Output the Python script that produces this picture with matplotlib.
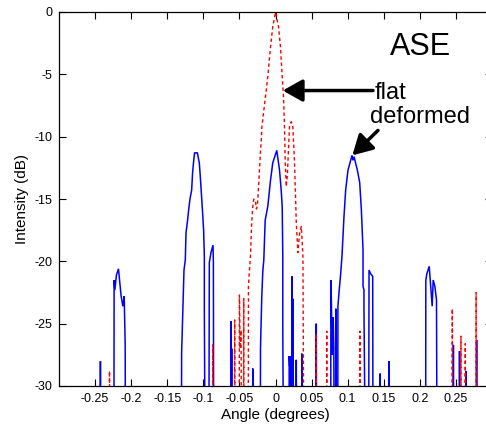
import numpy as np
import matplotlib
matplotlib.use('Agg')
from matplotlib import pyplot as plt

plt.rcParams['font.family'] = ['Liberation Sans', 'DejaVu Sans']
plt.rcParams['axes.unicode_minus'] = False

FLOOR = -40

# deformed mirror (solid blue)
blue_x = [-0.300, -0.2430, -0.2426, -0.2422,
          -0.2240, -0.2236, -0.2226, -0.2204, -0.2176, -0.2139, -0.2115, -0.2097, -0.2083, -0.2078,
          -0.1305, -0.1301, -0.1288, -0.1268, -0.1250, -0.1240, -0.1222, -0.1204, -0.1185, -0.1162,
          -0.1149, -0.1135, -0.1121, -0.1083, -0.1056, -0.1042, -0.1024, -0.1010, -0.0996, -0.0986,
          -0.0986, -0.0972,
          -0.0925, -0.0917, -0.0894, -0.0866, -0.0861, -0.0855,
          -0.0620, -0.0616, -0.0612, -0.0607, -0.0603,
          -0.0318, -0.0315, -0.0312,
          -0.0212, -0.0208, -0.0190, -0.0176, -0.0162, -0.0143, -0.0107, -0.0069, -0.0038, 0.0018,
          0.0056, 0.0079, 0.0093, 0.0101, 0.0101, 0.0115,
          0.0185, 0.0190, 0.0196, 0.0202, 0.0208, 0.0212,
          0.0222, 0.0227, 0.0233, 0.0240, 0.0245,
          0.0282, 0.0288, 0.0294, 0.0360, 0.0365, 0.0370,
          0.0560, 0.0565, 0.0570,
          0.0764, 0.0768, 0.0775, 0.0785, 0.0795, 0.0800, 0.0808, 0.0815,
          0.0830, 0.0836, 0.0842,
          0.0862, 0.0865, 0.0880, 0.0903, 0.0921, 0.0935, 0.0949, 0.0972, 0.1004, 0.1060, 0.1074,
          0.1088, 0.1135, 0.1167, 0.1190, 0.1213, 0.1213, 0.1226, 0.1226, 0.1250,
          0.1290, 0.1296, 0.1319, 0.1347, 0.1352,
          0.1446, 0.1450, 0.1454, 0.1566, 0.1570, 0.1574,
          0.2080, 0.2083, 0.2097, 0.2130, 0.2157, 0.2171, 0.2185, 0.2208, 0.2231, 0.2240,
          0.2461, 0.2465, 0.2469, 0.2546, 0.2550, 0.2554, 0.2636, 0.2640, 0.2644,
          0.2783, 0.2787, 0.2791, 0.300]
blue_y = [FLOOR, FLOOR, -28.0, FLOOR,
          FLOOR, -21.5, -22.3, -21.1, -20.6, -22.8, -23.6, -22.8, -26.6, FLOOR,
          FLOOR, -27.4, -24.7, -20.7, -19.9, -17.7, -16.9, -15.9, -15.0, -14.3,
          -12.9, -12.0, -11.3, -11.3, -12.1, -13.2, -14.8, -16.1, -17.5, -19.6,
          -23.9, FLOOR,
          FLOOR, -20.1, -19.3, -18.7, -20.0, FLOOR,
          FLOOR, -24.8, FLOOR, -27.0, FLOOR,
          FLOOR, -28.6, FLOOR,
          FLOOR, -27.0, -22.8, -20.8, -19.9, -16.7, -15.6, -13.5, -12.1, -11.1,
          -12.7, -14.3, -15.6, -19.6, -25.5, FLOOR,
          FLOOR, -27.6, -28.4, -27.6, -28.6, FLOOR,
          FLOOR, -21.2, FLOOR, -23.0, FLOOR,
          FLOOR, -27.9, FLOOR, FLOOR, -27.4, FLOOR,
          FLOOR, -25.0, FLOOR,
          FLOOR, -21.5, -23.4, -27.5, -25.2, -24.5, -27.0, FLOOR,
          FLOOR, -23.8, FLOOR,
          FLOOR, -23.6, -22.5, -21.0, -19.6, -18.0, -16.4, -14.3, -12.7, -11.5, -11.9,
          -11.6, -12.7, -13.7, -15.9, -19.1, -22.0, -22.3, -23.9, FLOOR,
          FLOOR, -20.7, -21.0, -21.2, FLOOR,
          FLOOR, -29.0, FLOOR, FLOOR, -28.0, FLOOR,
          FLOOR, -21.5, -21.0, -20.4, -22.5, -23.6, -21.5, -22.0, -23.1, FLOOR,
          FLOOR, -26.7, FLOOR, FLOOR, -27.2, FLOOR, FLOOR, -28.8, FLOOR,
          FLOOR, -26.3, FLOOR, FLOOR]

# flat mirror (dashed red)
red_x = [-0.300, -0.2304, -0.2300, -0.2296,
         -0.0874, -0.0870, -0.0866,
         -0.0569, -0.0565, -0.0561, -0.0504, -0.0500, -0.0490, -0.0477, -0.0470,
         -0.0444, -0.0440, -0.0436,
         -0.0378, -0.0375, -0.0361, -0.0347, -0.0330, -0.0315, -0.0301, -0.0278, -0.0264, -0.0250,
         -0.0240, -0.0222, -0.0208, -0.0194, -0.0190, -0.0162, -0.0139, -0.0107, -0.0069, -0.0038,
         0.0000, 0.0042, 0.0069, 0.0093, 0.0111, 0.0125, 0.0135, 0.0149, 0.0163, 0.0194, 0.0218,
         0.0240, 0.0264, 0.0288, 0.0310, 0.0333, 0.0357, 0.0370, 0.0380, 0.0396,
         0.0561, 0.0565, 0.0569, 0.0706, 0.0710, 0.0714, 0.1166, 0.1170, 0.1174,
         0.2446, 0.2450, 0.2454, 0.2566, 0.2570, 0.2574, 0.2626, 0.2630, 0.2634,
         0.2776, 0.2780, 0.2784, 0.300]
red_y = [FLOOR, FLOOR, -28.8, FLOOR,
         FLOOR, -26.7, FLOOR,
         FLOOR, -24.7, FLOOR, FLOOR, -22.7, -27.0, -25.5, FLOOR,
         FLOOR, -23.0, FLOOR,
         FLOOR, -22.0, -20.7, -19.6, -16.9, -15.6, -15.0, -15.2, -15.8, -15.5,
         -14.5, -12.7, -11.2, -10.0, -9.3, -7.9, -6.8, -5.2, -2.8, -1.2,
         0.0, -1.2, -2.8, -5.2, -6.8, -9.3, -12.1, -14.0, -13.2, -9.2, -8.8,
         -9.2, -12.1, -16.9, -19.3, -17.8, -17.2, -18.5, -19.6, FLOOR,
         FLOOR, -25.8, FLOOR, FLOOR, -25.6, FLOOR, FLOOR, -25.6, FLOOR,
         FLOOR, -23.8, FLOOR, FLOOR, -26.0, FLOOR, FLOOR, -26.6, FLOOR,
         FLOOR, -22.5, FLOOR, FLOOR]

xticks = [-0.25, -0.2, -0.15, -0.1, -0.05, 0, 0.05, 0.1, 0.15, 0.2, 0.25]
xtick_labels = ['-0.25', '-0.2', '-0.15', '-0.1', '-0.05', '0', '0.05', '0.1', '0.15', '0.2', '0.25']
yticks = [0, -5, -10, -15, -20, -25, -30]
ytick_labels = ['0', '-5', '-10', '-15', '-20', '-25', '-30']

fig = plt.figure(figsize=(4.86, 4.32), dpi=100)
ax = fig.add_axes([59/486, 1 - 386/432, 433/486, 374/432])

ax.plot(blue_x, blue_y, color='#0000ff', lw=1.1, solid_joinstyle='miter')
ax.plot(red_x, red_y, color='#ff0000', lw=1.0, linestyle=(0, (2.5, 2)))

ax.set_xlim(-0.3, 0.3)
ax.set_ylim(-30, 0)
ax.set_xticks(xticks)
ax.set_xticklabels(xtick_labels)
ax.set_yticks(yticks)
ax.set_yticklabels(ytick_labels)
ax.tick_params(direction='in', length=5, width=0.8, labelsize=9, top=True, right=True, pad=5)
ax.set_xlabel('Angle (degrees)', fontsize=11, labelpad=2)
ax.set_ylabel('Intensity (dB)', fontsize=11, labelpad=4)
for s in ax.spines.values():
    s.set_linewidth(0.9)

ax.text(0.158, -3.45, 'ASE', fontsize=22)
ax.text(0.1375, -7.0, 'flat', fontsize=17)
ax.text(0.1306, -8.88, 'deformed', fontsize=17)

arrow = dict(arrowstyle='-|>,head_length=0.8,head_width=0.45', lw=2.5, color='k',
             shrinkA=0, shrinkB=0, mutation_scale=15)
ax.annotate('', xy=(0.010, -6.3), xytext=(0.1351, -6.3), arrowprops=arrow)
ax.annotate('', xy=(0.1065, -11.5), xytext=(0.142, -9.5), arrowprops=arrow)

fig.savefig('out.png', dpi=100)
